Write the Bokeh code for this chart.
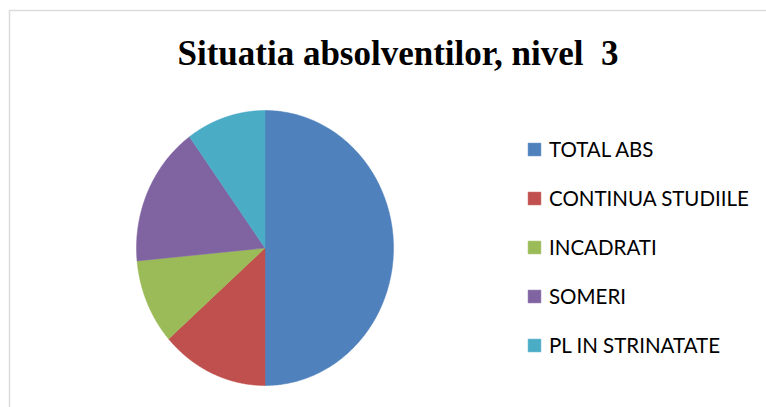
import numpy as np
from bokeh.plotting import figure
from bokeh.models import ColumnDataSource, Range1d, Legend, LegendItem, BoxAnnotation, Label
from bokeh.embed import file_html
from bokeh.resources import INLINE

# ---- data ----
categories = ["TOTAL ABS", "CONTINUA STUDIILE", "INCADRATI", "SOMERI", "PL IN STRINATATE"]
values = [100, 27, 20, 33, 20]
colors = ["#4F81BD", "#C0504D", "#9BBB59", "#8064A2", "#4BACC6"]
title_text = "Situatia absolventilor, nivel \u00a03"

# ---- layout (pixel-mapped data space, y grows downward) ----
W, H = 766, 407
cx, cy, rx, ry = 264.5, 247.5, 128.5, 137.5

p = figure(width=W, height=H, output_backend="svg", toolbar_location=None,
           x_range=Range1d(0, W), y_range=Range1d(H, 0), min_border=0,
           x_axis_location=None, y_axis_location=None)
p.grid.visible = False
p.outline_line_color = None
p.background_fill_color = "white"
p.border_fill_color = "white"

total = float(sum(values))
cum = np.concatenate([[0.0], np.cumsum(values)]) / total * 2 * np.pi
xs, ys = [], []
for i in range(len(values)):
    th = np.linspace(cum[i], cum[i + 1], 200)
    xs.append([cx] + list(cx + rx * np.sin(th)))
    ys.append([cy] + list(cy - ry * np.cos(th)))

src = ColumnDataSource(dict(xs=xs, ys=ys, color=colors, label=categories, value=values))
r = p.patches("xs", "ys", source=src, fill_color="color", line_color="color", line_width=0.5)

items = [LegendItem(label=c, renderers=[r], index=i) for i, c in enumerate(categories)]
legend = Legend(items=items, location=(526, 50), glyph_width=16, glyph_height=16,
                label_standoff=7, spacing=25, padding=0, margin=0, label_height=22,
                border_line_color=None, background_fill_alpha=0,
                label_text_font="Lato", label_text_font_size="20.5px", label_text_color="black")
p.add_layout(legend)

p.add_layout(Label(x=397.5, y=53, text=title_text, text_font="Liberation Serif",
                   text_font_style="bold", text_font_size="35px", text_align="center",
                   text_baseline="alphabetic", text_color="black"))

# chart frame (only its top and left edges fall inside the picture)
p.add_layout(BoxAnnotation(left=9, top=10, right=W + 20, bottom=H + 20,
                           fill_alpha=0, line_color="#8c8c8c", line_width=1.5,
                           editable=False))

open("out.html", "w").write(file_html(p, INLINE))
